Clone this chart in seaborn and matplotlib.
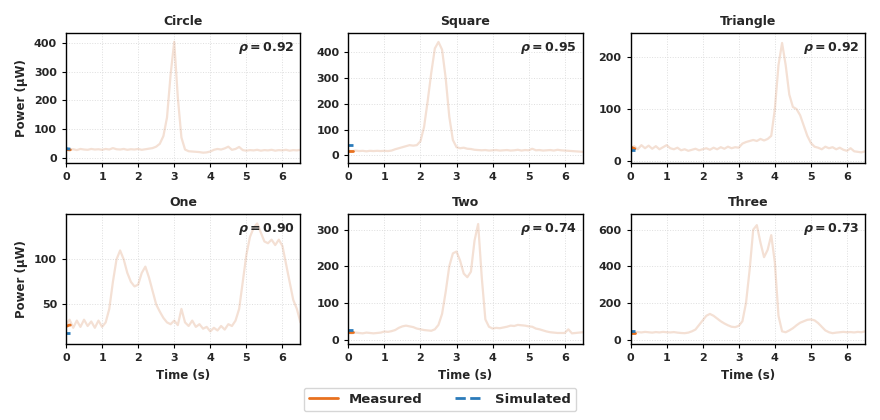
import numpy as np
import pandas as pd
import matplotlib
matplotlib.use('Agg')
import matplotlib.pyplot as plt
import seaborn as sns

sns.set_style('ticks')
plt.rcParams['font.family'] = ['DejaVu Sans']
plt.rcParams['font.weight'] = 'bold'
plt.rcParams['axes.titleweight'] = 'bold'
plt.rcParams['axes.labelweight'] = 'bold'
plt.rcParams['axes.edgecolor'] = 'black'

# sample times of the raw trace (s)
time = np.round(np.arange(0, 6.55, 0.1), 1)

circle_raw = [30, 27, 29, 26, 30, 28, 27, 30, 28, 29, 27, 30, 28, 33, 29, 28, 30, 27, 29, 28,
              30, 27, 29, 31, 33, 38, 48, 75, 140, 290, 405, 210, 70, 28, 22, 21, 20, 19, 17, 18,
              21, 27, 30, 28, 32, 38, 27, 30, 37, 26, 24, 26, 25, 27, 24, 26, 25, 27, 24, 26,
              25, 27, 24, 26, 25, 27]
square_raw = [18, 17, 19, 17, 18, 16, 18, 17, 18, 17, 18, 17, 19, 24, 28, 32, 36, 40, 38, 40,
              55, 110, 210, 320, 415, 440, 410, 300, 150, 60, 32, 28, 30, 26, 25, 22, 21, 20, 21, 19,
              20, 21, 19, 20, 21, 19, 20, 22, 19, 21, 20, 26, 20, 21, 19, 20, 21, 19, 22, 20,
              19, 18, 17, 16, 15, 14]
triangle_raw = [24, 28, 22, 30, 24, 29, 23, 28, 22, 26, 30, 24, 22, 25, 20, 22, 19, 21, 23, 20,
                22, 24, 21, 25, 22, 26, 23, 27, 24, 26, 25, 33, 36, 38, 40, 38, 42, 39, 42, 48,
                100, 185, 228, 185, 128, 104, 100, 88, 68, 48, 34, 27, 25, 22, 27, 24, 26, 22, 25, 21,
                19, 24, 18, 17, 16, 18]
one_raw = [28, 33, 24, 32, 25, 33, 26, 31, 24, 32, 25, 30, 45, 75, 100, 110, 100, 85, 75, 70,
           72, 85, 92, 80, 65, 50, 42, 35, 30, 28, 32, 27, 45, 30, 26, 32, 25, 28, 23, 25,
           20, 24, 21, 26, 22, 28, 26, 32, 45, 75, 105, 125, 135, 140, 130, 120, 118, 122, 116, 122,
           115, 95, 75, 55, 45, 30]
two_raw = [18, 17, 19, 18, 17, 19, 18, 17, 18, 19, 22, 21, 23, 26, 32, 36, 38, 36, 34, 30,
           28, 26, 25, 24, 28, 40, 70, 130, 200, 235, 240, 215, 180, 170, 185, 270, 315, 170, 55, 35,
           30, 32, 31, 33, 35, 38, 37, 40, 39, 38, 36, 35, 30, 28, 25, 22, 20, 19, 18, 18,
           18, 28, 17, 18, 19, 20]
three_raw = [40, 38, 41, 39, 42, 40, 38, 41, 39, 42, 40, 39, 41, 38, 36, 35, 38, 45, 55, 80,
             105, 130, 140, 130, 115, 100, 88, 78, 70, 68, 75, 100, 200, 380, 600, 625, 530, 450, 490, 570,
             420, 130, 45, 40, 50, 62, 78, 92, 100, 108, 110, 105, 90, 70, 50, 40, 35, 38, 40, 42,
             40, 41, 39, 42, 40, 45]

# short smoothed / simulated segments at the start
t_short = [0.0, 0.04, 0.08, 0.12]
circle_meas = [28, 28, 27, 27]
circle_sim = [31, 31, 30, 30]
square_meas = [18, 18, 18, 18]
square_sim = [42, 42, 42, 42]
triangle_meas = [26, 25, 24, 23]
triangle_sim = [21, 21, 21, 21]
one_meas = [26, 26, 27, 27]
one_sim = [18, 18, 18, 18]
two_meas = [20, 20, 20, 20]
two_sim = [25, 25, 25, 25]
three_meas = [38, 38, 38, 38]
three_sim = [45, 45, 45, 45]

shapes = ['Circle', 'Square', 'Triangle', 'One', 'Two', 'Three']
rhos = ['0.92', '0.95', '0.92', '0.90', '0.74', '0.73']
raws = [circle_raw, square_raw, triangle_raw, one_raw, two_raw, three_raw]
meas = [circle_meas, square_meas, triangle_meas, one_meas, two_meas, three_meas]
sims = [circle_sim, square_sim, triangle_sim, one_sim, two_sim, three_sim]
ylims = [(-18, 435), (-28, 474), (-4, 247), (6, 150), (-12, 341), (-24, 683)]
yticks = [[0, 100, 200, 300, 400], [0, 100, 200, 300, 400], [0, 100, 200],
          [50, 100], [0, 100, 200, 300], [0, 200, 400, 600]]

meas_color = '#e8711f'
sim_color = '#2b7bba'
raw_color = '#c8642a'

fig, axes = plt.subplots(2, 3, figsize=(8.8, 4.2), dpi=100)
fig.subplots_adjust(left=0.075, right=0.983, top=0.921, bottom=0.181, wspace=0.204, hspace=0.4)

for i, ax in enumerate(axes.flat):
    df_raw = pd.DataFrame({'t': time, 'p': raws[i]})
    df_short = pd.DataFrame({'t': t_short, 'm': meas[i], 's': sims[i]})
    sns.lineplot(data=df_raw, x='t', y='p', ax=ax, color=raw_color, alpha=0.2, lw=1.6)
    sns.lineplot(data=df_short, x='t', y='m', ax=ax, color=meas_color, lw=2, label='Measured')
    sns.lineplot(data=df_short, x='t', y='s', ax=ax, color=sim_color, lw=2, ls='--', label='Simulated')
    if ax.get_legend() is not None:
        ax.get_legend().remove()
    ax.set_title(shapes[i], fontsize=9, fontweight='bold')
    ax.set_xlim(0, 6.5)
    ax.set_ylim(*ylims[i])
    ax.set_xticks(range(7))
    ax.set_yticks(yticks[i])
    ax.grid(True, ls=':', color='#dedede', lw=0.7)
    ax.tick_params(labelsize=8, length=3, color='black')
    for lab in ax.get_xticklabels() + ax.get_yticklabels():
        lab.set_fontweight('bold')
    ax.text(0.975, 0.885, r'$\boldsymbol{\rho}=\mathbf{' + rhos[i] + '}$', transform=ax.transAxes,
            ha='right', va='center', fontsize=9)
    ax.set_xlabel('Time (s)' if i >= 3 else '', fontsize=8.5)
    ax.set_ylabel('Power (μW)' if i % 3 == 0 else '', fontsize=8.5)
    for sp in ax.spines.values():
        sp.set_color('black')
        sp.set_linewidth(1)

handles, labels = axes[0, 0].get_legend_handles_labels()
fig.legend(handles, labels, loc='lower center', bbox_to_anchor=(0.5, 0.005), ncol=2,
           fontsize=9.5, frameon=True, handlelength=2.2, columnspacing=2.5)

fig.savefig('out.png', dpi=100)
